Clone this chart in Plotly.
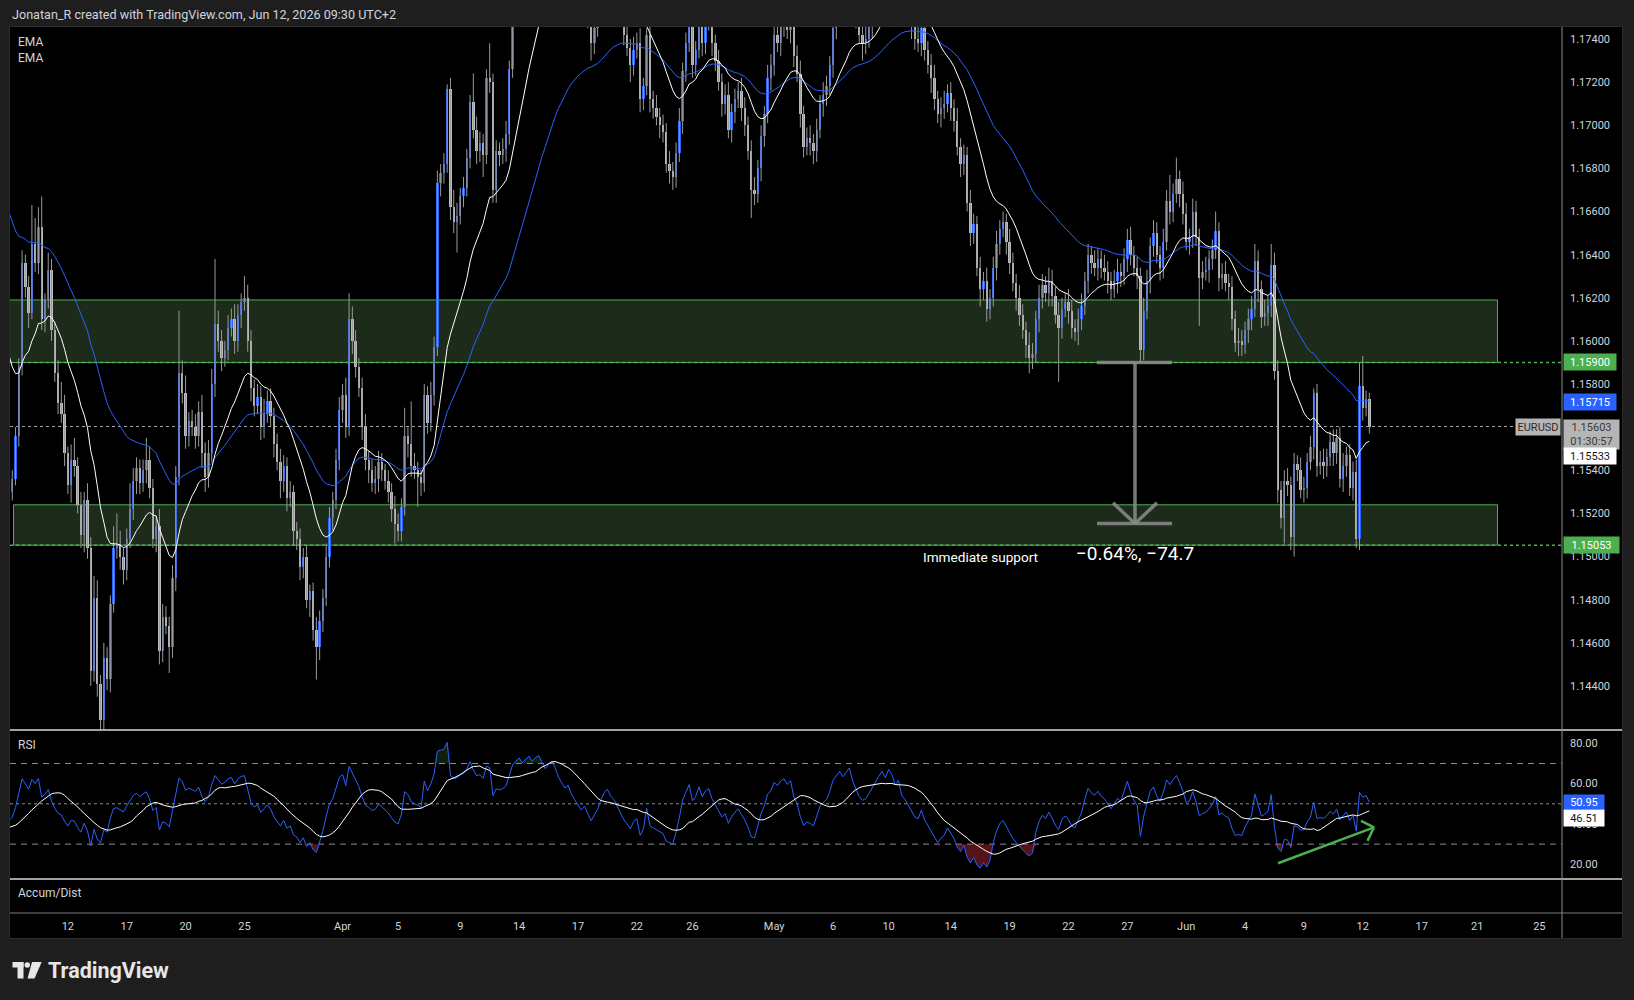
import datetime as dt
import plotly.graph_objects as go

# ---------------- data (EURUSD, 4h bars) ----------------
FIRST_OPEN = 1.1518
closes = [
    1.1530, 1.1536, 1.1556, 1.1588, 1.1636, 1.1625, 1.1613, 1.1645, 1.1636, 1.1653,
    1.1610, 1.1619, 1.1633, 1.1605, 1.1585, 1.1571, 1.1566, 1.1548, 1.1533, 1.1545,
    1.1542, 1.1524, 1.1510, 1.1526, 1.1504, 1.1447, 1.1481, 1.1441, 1.1424, 1.1453,
    1.1443, 1.1478, 1.1504, 1.1506, 1.1500, 1.1494, 1.1508, 1.1522, 1.1535, 1.1541,
    1.1534, 1.1540, 1.1545, 1.1532, 1.1508, 1.1514, 1.1456, 1.1472, 1.1468, 1.1458,
    1.1490, 1.1537, 1.1585, 1.1576, 1.1556, 1.1563, 1.1560, 1.1556, 1.1567, 1.1548,
    1.1537, 1.1548, 1.1580, 1.1608, 1.1600, 1.1592, 1.1596, 1.1606, 1.1610, 1.1600,
    1.1612, 1.1618, 1.1620, 1.1600, 1.1578, 1.1570, 1.1574, 1.1560, 1.1566, 1.1572,
    1.1565, 1.1552, 1.1544, 1.1535, 1.1542, 1.1527, 1.1530, 1.1512, 1.1508, 1.1495,
    1.1500, 1.1480, 1.1484, 1.1466, 1.1458, 1.1470, 1.1481, 1.1500, 1.1518, 1.1526,
    1.1545, 1.1568, 1.1575, 1.1560, 1.1610, 1.1600, 1.1588, 1.1578, 1.1560, 1.1545,
    1.1540, 1.1534, 1.1536, 1.1544, 1.1540, 1.1535, 1.1530, 1.1522, 1.1515, 1.1512,
    1.1523, 1.1556, 1.1552, 1.1542, 1.1540, 1.1537, 1.1534, 1.1575, 1.1562, 1.1575,
    1.1597, 1.1673, 1.1678, 1.1682, 1.1717, 1.1662, 1.1655, 1.1658, 1.1667, 1.1671,
    1.1685, 1.1711, 1.1698, 1.1688, 1.1692, 1.1686, 1.1722, 1.1720, 1.1670, 1.1688,
    1.1686, 1.1689, 1.1696, 1.1726, 1.1758, 1.1772, 1.1785, 1.1778, 1.1790, 1.1802,
    1.1795, 1.1808, 1.1815, 1.1806, 1.1798, 1.1810, 1.1820, 1.1812, 1.1800, 1.1792,
    1.1785, 1.1790, 1.1778, 1.1770, 1.1762, 1.1755, 1.1760, 1.1750, 1.1738, 1.1745,
    1.1752, 1.1764, 1.1775, 1.1780, 1.1772, 1.1768, 1.1760, 1.1752, 1.1742, 1.1736,
    1.1728, 1.1735, 1.1738, 1.1712, 1.1718, 1.1742, 1.1712, 1.1708, 1.1704, 1.1700,
    1.1697, 1.1682, 1.1679, 1.1676, 1.1687, 1.1702, 1.1725, 1.1738, 1.1750, 1.1728,
    1.1735, 1.1752, 1.1738, 1.1748, 1.1752, 1.1738, 1.1730, 1.1720, 1.1710, 1.1714,
    1.1698, 1.1706, 1.1712, 1.1716, 1.1708, 1.1700, 1.1688, 1.1670, 1.1668, 1.1680,
    1.1695, 1.1705, 1.1722, 1.1728, 1.1742, 1.1738, 1.1746, 1.1750, 1.1744, 1.1750,
    1.1732, 1.1724, 1.1705, 1.1690, 1.1694, 1.1692, 1.1688, 1.1698, 1.1710, 1.1714,
    1.1718, 1.1728, 1.1745, 1.1752, 1.1760, 1.1755, 1.1762, 1.1770, 1.1758, 1.1750,
    1.1742, 1.1738, 1.1740, 1.1746, 1.1752, 1.1760, 1.1768, 1.1775, 1.1770, 1.1782,
    1.1778, 1.1770, 1.1775, 1.1762, 1.1758, 1.1752, 1.1746, 1.1740, 1.1738, 1.1745,
    1.1735, 1.1728, 1.1722, 1.1712, 1.1705, 1.1708, 1.1710, 1.1715, 1.1708, 1.1702,
    1.1690, 1.1682, 1.1686, 1.1664, 1.1650, 1.1654, 1.1634, 1.1624, 1.1628, 1.1615,
    1.1620, 1.1634, 1.1645, 1.1652, 1.1655, 1.1646, 1.1636, 1.1627, 1.1620, 1.1612,
    1.1605, 1.1598, 1.1592, 1.1594, 1.1610, 1.1620, 1.1626, 1.1622, 1.1628, 1.1621,
    1.1612, 1.1606, 1.1615, 1.1618, 1.1614, 1.1606, 1.1604, 1.1610, 1.1616, 1.1628,
    1.1640, 1.1636, 1.1634, 1.1638, 1.1634, 1.1632, 1.1628, 1.1624, 1.1628, 1.1632,
    1.1630, 1.1638, 1.1647, 1.1640, 1.1634, 1.1630, 1.1596, 1.1614, 1.1628, 1.1644,
    1.1650, 1.1640, 1.1634, 1.1646, 1.1665, 1.1660, 1.1668, 1.1675, 1.1668, 1.1659,
    1.1646, 1.1648, 1.1660, 1.1648, 1.1629, 1.1632, 1.1633, 1.1638, 1.1642, 1.1651,
    1.1629, 1.1631, 1.1627, 1.1625, 1.1610, 1.1599, 1.1600, 1.1598, 1.1605, 1.1610,
    1.1615, 1.1637, 1.1624, 1.1611, 1.1613, 1.1616, 1.1635, 1.1586, 1.1531, 1.1518,
    1.1535, 1.1533, 1.1509, 1.1543, 1.1540, 1.1531, 1.1532, 1.1544, 1.1551, 1.1576,
    1.1542, 1.1544, 1.1542, 1.1546, 1.1553, 1.1548, 1.1555, 1.1536, 1.1542, 1.1547,
    1.1532, 1.1539, 1.1508, 1.1579, 1.1569, 1.1573, 1.1560,
]
# upper / lower wick lengths in pips
wick_up_pips = [
    3, 4, 4, 4, 6, 4, 5, 18, 12, 9,  14, 3, 8, 5, 4, 6, 10, 9, 3, 7,
    10, 4, 6, 4, 8, 5, 10, 8, 4, 7,  5, 4, 10, 14, 6, 4, 5, 12, 6, 5,
    4, 5, 10, 6, 4, 5, 8, 6, 5, 4,  6, 5, 29, 6, 8, 4, 5, 6, 5, 8,
    5, 6, 7, 30, 6, 5, 4, 6, 5, 7,  5, 4, 10, 6, 5, 4, 6, 5, 7, 5,
    6, 4, 5, 6, 5, 4, 5, 3, 4, 5,  4, 5, 3, 4, 6, 5, 4, 6, 5, 4,
    5, 6, 5, 8, 12, 6, 5, 4, 5, 6,  4, 5, 6, 5, 4, 3, 5, 4, 6, 5,
    4, 13, 4, 20, 6, 4, 3, 5, 4, 6,  5, 6, 4, 5, 2, 5, 8, 6, 4, 5,
    4, 3, 13, 6, 5, 4, 4, 16, 4, 5,  4, 5, 6, 4, 6, 8, 5, 7, 6, 5,
    8, 6, 5, 7, 6, 5, 6, 5, 7, 6,  5, 6, 7, 5, 4, 6, 5, 6, 4, 5,
    6, 5, 4, 6, 5, 7, 5, 4, 6, 5,  4, 6, 5, 7, 4, 3, 5, 4, 6, 4,
    5, 4, 6, 4, 5, 6, 4, 5, 6, 5,  4, 5, 6, 4, 5, 6, 4, 5, 4, 5,
    6, 4, 5, 4, 6, 5, 4, 5, 6, 4,  5, 4, 6, 5, 4, 6, 5, 4, 6, 5,
    4, 5, 6, 4, 5, 6, 4, 5, 4, 6,  5, 4, 6, 5, 4, 5, 6, 4, 5, 6,
    4, 5, 6, 4, 5, 4, 6, 5, 4, 6,  5, 4, 6, 5, 4, 6, 5, 4, 6, 5,
    10, 4, 5, 6, 4, 5, 6, 4, 5, 4,  6, 4, 5, 4, 6, 5, 4, 5, 4, 6,
    4, 5, 6, 4, 5, 4, 6, 5, 4, 6,  5, 4, 6, 5, 4, 6, 5, 4, 6, 5,
    4, 6, 5, 4, 6, 5, 4, 5, 6, 4,  5, 4, 6, 5, 4, 6, 5, 4, 5, 6,
    4, 5, 5, 6, 4, 5, 4, 6, 5, 4,  6, 5, 4, 6, 5, 12, 5, 10, 4, 6,
    5, 4, 6, 5, 4, 5, 6, 4, 5, 9,  4, 5, 6, 4, 5, 4, 6, 5, 4, 5,
    6, 8, 5, 4, 6, 5, 10, 6, 5, 4,  5, 6, 4, 5, 4, 6, 5, 4, 5, 2,
    4, 5, 6, 4, 5, 6, 4, 5, 6, 4,  5, 5, 6, 11, 14, 4, 3,
]
wick_dn_pips = [
    3, 4, 3, 5, 4, 5, 7, 3, 4, 5,  5, 6, 4, 5, 4, 5, 4, 6, 4, 8,
    5, 4, 6, 8, 5, 7, 5, 6, 6, 8,  5, 6, 4, 5, 6, 7, 5, 4, 5, 6,
    5, 4, 6, 5, 4, 6, 6, 5, 4, 12,  5, 6, 4, 5, 6, 5, 4, 6, 5, 7,
    7, 5, 4, 6, 5, 6, 4, 5, 4, 6,  5, 6, 4, 5, 6, 5, 4, 6, 5, 4,
    5, 6, 4, 8, 5, 6, 4, 7, 5, 6,  5, 4, 8, 5, 15, 6, 5, 4, 5, 6,
    4, 5, 6, 5, 4, 6, 5, 4, 6, 5,  6, 4, 5, 6, 5, 4, 5, 6, 9, 5,
    5, 4, 6, 5, 4, 14, 6, 4, 5, 4,  5, 4, 6, 5, 4, 6, 5, 14, 4, 5,
    4, 5, 4, 6, 5, 10, 4, 5, 6, 6,  5, 4, 6, 5, 4, 6, 5, 4, 6, 5,
    4, 6, 5, 4, 6, 5, 4, 6, 5, 4,  6, 5, 4, 6, 5, 4, 6, 5, 8, 5,
    4, 6, 5, 4, 6, 5, 4, 6, 5, 4,  8, 5, 4, 6, 5, 4, 6, 5, 4, 6,
    5, 4, 6, 6, 5, 4, 6, 5, 4, 6,  5, 4, 6, 5, 4, 6, 5, 4, 6, 5,
    4, 6, 5, 4, 6, 5, 4, 13, 5, 4,  6, 5, 4, 6, 5, 4, 6, 5, 4, 6,
    5, 4, 6, 5, 4, 6, 6, 5, 4, 6,  5, 4, 6, 5, 4, 6, 5, 4, 6, 5,
    4, 8, 5, 4, 6, 5, 4, 6, 5, 4,  6, 5, 4, 6, 5, 4, 6, 5, 4, 6,
    5, 4, 7, 5, 4, 6, 5, 4, 6, 5,  4, 6, 5, 4, 6, 5, 4, 8, 5, 6,
    5, 4, 6, 5, 4, 6, 5, 4, 6, 5,  4, 6, 7, 5, 4, 6, 5, 4, 6, 5,
    4, 25, 5, 4, 6, 5, 4, 6, 5, 4,  6, 5, 4, 6, 5, 4, 6, 5, 4, 6,
    5, 4, 6, 5, 4, 6, 6, 5, 4, 6,  5, 4, 6, 5, 4, 6, 5, 4, 6, 5,
    4, 6, 5, 4, 22, 5, 4, 6, 5, 4,  6, 5, 4, 6, 5, 4, 6, 5, 4, 6,
    5, 4, 6, 5, 4, 6, 5, 4, 6, 5,  12, 5, 6, 9, 5, 4, 6, 5, 4, 6,
    5, 4, 6, 5, 4, 6, 5, 4, 6, 5,  4, 6, 4, 5, 6, 4, 3,
]

# indicator settings and their state at the first visible bar
EMA_FAST_LEN, EMA_SLOW_LEN = 20, 50
EMA_FAST_START, EMA_SLOW_START = 1.1600, 1.1665
RSI_LEN, RSI_MA_LEN = 14, 14
RSI_START_GAIN, RSI_START_LOSS = 0.0007, 0.0011
RSI_MA_START = 38.0

# time axis
LAST_BAR_DATE = "2026-06-12"
LAST_BAR_SLOT = 2          # 08:00 bar of that day
tick_dates = ["2026-03-09", "2026-03-12", "2026-03-17", "2026-03-20", "2026-03-25",
              "2026-04-01", "2026-04-05", "2026-04-09", "2026-04-14", "2026-04-17",
              "2026-04-22", "2026-04-26", "2026-05-01", "2026-05-06", "2026-05-10",
              "2026-05-14", "2026-05-19", "2026-05-22", "2026-05-27", "2026-06-01",
              "2026-06-04", "2026-06-09", "2026-06-12", "2026-06-17", "2026-06-21",
              "2026-06-25"]
tick_text = ["9", "12", "17", "20", "25", "Apr", "5", "9", "14", "17", "22", "26", "May",
             "6", "10", "14", "19", "22", "27", "Jun", "4", "9", "12", "17", "21", "25"]
price_ticks = [1.144, 1.146, 1.148, 1.150, 1.152, 1.154, 1.156, 1.158, 1.160,
               1.162, 1.164, 1.166, 1.168, 1.170, 1.172, 1.174]
rsi_ticks = [20, 40, 60, 80]

# drawings / labels
ZONE_UPPER = (1.15900, 1.16190)
ZONE_LOWER = (1.15053, 1.15240)
MEASURE_FROM = 1.15900
MEASURE_PIPS = -74.7
LAST_PRICE = 1.15603
COUNTDOWN = "01:30:57"
EMA_FAST_LAST, EMA_SLOW_LAST = 1.15533, 1.15715
RSI_LAST, RSI_MA_LAST = 50.95, 46.51
TITLE = "Jonatan_R created with TradingView.com, Jun 12, 2026 09:30 UTC+2"

# ---------------- derived series ----------------
n = len(closes)
opens = [FIRST_OPEN] + closes[:-1]
highs = [max(o, c) + u / 10000 for o, c, u in zip(opens, closes, wick_up_pips)]
lows = [min(o, c) - d / 10000 for o, c, d in zip(opens, closes, wick_dn_pips)]
idx = list(range(n))


def ema(vals, length, start):
    a = 2 / (length + 1)
    e, out = start, []
    for v in vals:
        e += a * (v - e)
        out.append(e)
    return out


def rsi_series(vals):
    ag, al, prev, out = RSI_START_GAIN, RSI_START_LOSS, FIRST_OPEN, []
    for c in vals:
        ch = c - prev
        prev = c
        ag = (ag * (RSI_LEN - 1) + max(ch, 0)) / RSI_LEN
        al = (al * (RSI_LEN - 1) + max(-ch, 0)) / RSI_LEN
        out.append(100 - 100 / (1 + ag / al))
    return out


ema_fast = ema(closes, EMA_FAST_LEN, EMA_FAST_START)
ema_slow = ema(closes, EMA_SLOW_LEN, EMA_SLOW_START)
rsi = rsi_series(closes)
padded = [RSI_MA_START] * (RSI_MA_LEN - 1) + rsi
rsi_ma = [sum(padded[i:i + RSI_MA_LEN]) / RSI_MA_LEN for i in range(n)]

# bar calendar (Sun 1 bar, Mon-Thu 6, Fri 5)
cal = []
d = dt.date(2026, 3, 1)
while d <= dt.date(2026, 7, 12):
    wd = d.weekday()
    cnt = 1 if wd == 6 else (0 if wd == 5 else (5 if wd == 4 else 6))
    cal.extend([d] * cnt)
    d += dt.timedelta(days=1)
last_pos = cal.index(dt.date.fromisoformat(LAST_BAR_DATE)) + LAST_BAR_SLOT
offset = last_pos - (n - 1)
tickvals = [cal.index(dt.date.fromisoformat(s)) - offset for s in tick_dates]

# ---------------- geometry / styling ----------------
W, H = 1634, 1000
PL, PR, PT, PB = 10, 1562, 27, 913
BAR_PX, BAR0_PX = 3.27, 9.0
PX_PER_UNIT, REF_P, REF_Y = 21565.0, 1.174, 39.0
RSI_PX, RSI_REF, RSI_REF_Y = 2.0167, 80.0, 743.3
MAIN_BOTTOM_Y, RSI_TOP_Y, RSI_BOTTOM_Y, AD_TOP_Y = 729.5, 730.5, 878.5, 879.5


def xp(px):
    return (px - PL) / (PR - PL)


def yp(py):
    return (PB - py) / (PB - PT)


def idx_at(px):
    return (px - BAR0_PX) / BAR_PX


x_range = [idx_at(PL), idx_at(PR)]
main_range = [REF_P - (MAIN_BOTTOM_Y - REF_Y) / PX_PER_UNIT, REF_P + (REF_Y - PT) / PX_PER_UNIT]
rsi_range = [RSI_REF - (RSI_BOTTOM_Y - RSI_REF_Y) / RSI_PX, RSI_REF + (RSI_REF_Y - RSI_TOP_Y) / RSI_PX]

BLUE = "#2962FF"
GRAY_BODY = "#BDBDBD"
WICK = "#9A9A9A"
GREEN = "#4CAF50"
TXT = "#D1D4DC"
FONT = "Roboto"

fig = go.Figure()

# wicks
wx, wy = [], []
for i, h, l in zip(idx, highs, lows):
    wx += [i, i, None]
    wy += [l, h, None]
fig.add_trace(go.Scatter(x=wx, y=wy, mode="lines", line=dict(color=WICK, width=1),
                         hoverinfo="skip", xaxis="x", yaxis="y"))
# bodies
fig.add_trace(go.Bar(
    x=idx, base=[min(o, c) for o, c in zip(opens, closes)],
    y=[max(abs(c - o), 0.00003) for o, c in zip(opens, closes)],
    width=0.72, marker=dict(color=[BLUE if c >= o else GRAY_BODY for o, c in zip(opens, closes)],
                            line=dict(width=0)),
    hoverinfo="skip", xaxis="x", yaxis="y"))
# EMAs
fig.add_trace(go.Scatter(x=idx, y=ema_slow, mode="lines", line=dict(color=BLUE, width=1),
                         hoverinfo="skip", xaxis="x", yaxis="y"))
fig.add_trace(go.Scatter(x=idx, y=ema_fast, mode="lines", line=dict(color="#FFFFFF", width=1),
                         hoverinfo="skip", xaxis="x", yaxis="y"))

# RSI fills
fig.add_trace(go.Scatter(x=idx, y=[30] * n, mode="lines", line=dict(width=0, color="rgba(0,0,0,0)"),
                         hoverinfo="skip", xaxis="x", yaxis="y2"))
fig.add_trace(go.Scatter(x=idx, y=[min(v, 30) for v in rsi], mode="lines",
                         line=dict(width=0, color="rgba(0,0,0,0)"), fill="tonexty",
                         fillcolor="rgba(242,54,69,0.35)", hoverinfo="skip", xaxis="x", yaxis="y2"))
fig.add_trace(go.Scatter(x=idx, y=[70] * n, mode="lines", line=dict(width=0, color="rgba(0,0,0,0)"),
                         hoverinfo="skip", xaxis="x", yaxis="y2"))
fig.add_trace(go.Scatter(x=idx, y=[max(v, 70) for v in rsi], mode="lines",
                         line=dict(width=0, color="rgba(0,0,0,0)"), fill="tonexty",
                         fillcolor="rgba(76,175,80,0.18)", hoverinfo="skip", xaxis="x", yaxis="y2"))
fig.add_trace(go.Scatter(x=idx, y=rsi, mode="lines", line=dict(color=BLUE, width=1),
                         hoverinfo="skip", xaxis="x", yaxis="y2"))
fig.add_trace(go.Scatter(x=idx, y=rsi_ma, mode="lines", line=dict(color="#FFFFFF", width=1),
                         hoverinfo="skip", xaxis="x", yaxis="y2"))

shapes = []
# chart panel background (incl. axis area)
shapes.append(dict(type="rect", xref="paper", yref="paper", x0=xp(9.5), x1=xp(1622.5),
                   y0=yp(938.5), y1=yp(26.5), fillcolor="#000000",
                   line=dict(color="#2C2C2C", width=1), layer="below"))
# zones
zx1 = idx_at(1497.5)
shapes.append(dict(type="rect", xref="x", yref="y", x0=idx_at(6), x1=zx1,
                   y0=ZONE_UPPER[0], y1=ZONE_UPPER[1], fillcolor="#1D2B1A",
                   line=dict(color=GREEN, width=1), layer="below"))
shapes.append(dict(type="rect", xref="x", yref="y", x0=idx_at(13.5), x1=zx1,
                   y0=ZONE_LOWER[0], y1=ZONE_LOWER[1], fillcolor="#1D2B1A",
                   line=dict(color=GREEN, width=1), layer="below"))
for lvl in (ZONE_UPPER[0], ZONE_LOWER[0]):
    shapes.append(dict(type="line", xref="x", yref="y", x0=x_range[0], x1=x_range[1], y0=lvl, y1=lvl,
                       line=dict(color=GREEN, width=1.5, dash="dot"), layer="below"))
# last price dotted line
shapes.append(dict(type="line", xref="x", yref="y", x0=x_range[0], x1=idx_at(1516), y0=LAST_PRICE,
                   y1=LAST_PRICE, line=dict(color="#A8A8A8", width=1, dash="dot"), layer="below"))
# measure drawing
m_to = MEASURE_FROM + MEASURE_PIPS / 10000
mx = idx_at(1135)
mc0, mc1 = idx_at(1097), idx_at(1172)
mgray = dict(color="rgba(140,140,140,0.85)", width=3.5)
shapes += [
    dict(type="line", xref="x", yref="y", x0=mx, x1=mx, y0=MEASURE_FROM, y1=m_to, line=mgray),
    dict(type="line", xref="x", yref="y", x0=mc0, x1=mc1, y0=MEASURE_FROM, y1=MEASURE_FROM, line=mgray),
    dict(type="line", xref="x", yref="y", x0=mc0, x1=mc1, y0=m_to, y1=m_to, line=mgray),
    dict(type="line", xref="x", yref="y", x0=idx_at(1113), x1=mx, y0=m_to + 0.00096, y1=m_to, line=mgray),
    dict(type="line", xref="x", yref="y", x0=idx_at(1157), x1=mx, y0=m_to + 0.00096, y1=m_to, line=mgray),
]
# RSI guide lines
for lvl, dash in ((70, "6px,5px"), (30, "6px,5px"), (50, "dot")):
    shapes.append(dict(type="line", xref="x", yref="y2", x0=x_range[0], x1=x_range[1], y0=lvl, y1=lvl,
                       line=dict(color="#8A8D96", width=1, dash=dash), layer="below"))
# green divergence arrow on RSI
garrow = dict(color=GREEN, width=2.5)
shapes += [
    dict(type="line", xref="x", yref="y2", x0=idx_at(1278), y0=20.5, x1=idx_at(1374), y1=38.35, line=garrow),
    dict(type="line", xref="x", yref="y2", x0=idx_at(1361), y0=41.5, x1=idx_at(1374), y1=38.35, line=garrow),
    dict(type="line", xref="x", yref="y2", x0=idx_at(1367.5), y0=31.6, x1=idx_at(1374), y1=38.35, line=garrow),
]
# pane separators and axis lines
for py in (MAIN_BOTTOM_Y + 0.5, RSI_BOTTOM_Y + 0.5):
    shapes.append(dict(type="line", xref="paper", yref="paper", x0=xp(10), x1=xp(1622), y0=yp(py), y1=yp(py),
                       line=dict(color="#D8D8D8", width=1.5)))
shapes.append(dict(type="line", xref="paper", yref="paper", x0=xp(10), x1=xp(1622), y0=yp(913), y1=yp(913),
                   line=dict(color="#7A7A7A", width=1)))
shapes.append(dict(type="line", xref="paper", yref="paper", x0=1, x1=1, y0=yp(938), y1=yp(27),
                   line=dict(color="#8C8C8C", width=1)))
# TradingView logo icon
LOGO = "#E6E6E6"
shapes.append(dict(type="rect", xref="paper", yref="paper", x0=xp(12.5), x1=xp(23.5), y0=yp(967.5), y1=yp(962),
                   fillcolor=LOGO, line=dict(width=0)))
shapes.append(dict(type="rect", xref="paper", yref="paper", x0=xp(17.5), x1=xp(23.5), y0=yp(978.5), y1=yp(962),
                   fillcolor=LOGO, line=dict(width=0)))
shapes.append(dict(type="circle", xref="paper", yref="paper", x0=xp(24.5), x1=xp(30), y0=yp(967.7), y1=yp(962.2),
                   fillcolor=LOGO, line=dict(width=0)))
path = "M {:.5f} {:.5f} L {:.5f} {:.5f} L {:.5f} {:.5f} L {:.5f} {:.5f} Z".format(
    xp(32), yp(962), xp(41.7), yp(962), xp(34.5), yp(978.5), xp(27.5), yp(978.5))
shapes.append(dict(type="path", xref="paper", yref="paper", path=path, fillcolor=LOGO, line=dict(width=0)))

ann = []


def text_at(px, py, s, size=12, color=TXT, anchor="left", bold=False):
    ann.append(dict(xref="paper", yref="paper", x=xp(px), y=yp(py), text=("<b>%s</b>" % s) if bold else s,
                    showarrow=False, xanchor=anchor, yanchor="middle",
                    font=dict(size=size, color=color, family=FONT)))


text_at(10, 15, TITLE, 12.6)
text_at(16, 42, "EMA", 12)
text_at(16, 58, "EMA", 12)
text_at(16, 745, "RSI", 12)
text_at(16, 893, "Accum/Dist", 12)
text_at(46, 970, "TradingView", 21.5, "#E6E6E6", bold=True)

# chart texts
pct = MEASURE_PIPS / 10000 / MEASURE_FROM * 100
ann.append(dict(xref="x", yref="y", x=idx_at(980), y=REF_P - (556.7 - REF_Y) / PX_PER_UNIT,
                text="Immediate support", showarrow=False, xanchor="center", yanchor="middle",
                font=dict(size=13.6, color="#FFFFFF", family=FONT)))
ann.append(dict(xref="x", yref="y", x=mx, y=REF_P - (553.3 - REF_Y) / PX_PER_UNIT,
                text=("%.2f%%, %.1f" % (pct, MEASURE_PIPS)).replace("-", "\u2212"), showarrow=False,
                xanchor="center", yanchor="middle", font=dict(size=19, color="#FFFFFF", family=FONT)))


def axis_box(yref, val, text, bg, fg, yshift=0, height=14, anchor="middle", width=50):
    ann.append(dict(xref="paper", yref=yref, x=1, y=val, xanchor="left", yanchor=anchor, xshift=1,
                    yshift=yshift, text=text, showarrow=False, bgcolor=bg, borderpad=1,
                    width=width, height=height, align="center",
                    font=dict(size=11, color=fg, family=FONT)))


axis_box("y", ZONE_UPPER[0], "%.5f" % ZONE_UPPER[0], GREEN, "#FFFFFF")
axis_box("y", EMA_SLOW_LAST, "%.5f" % EMA_SLOW_LAST, BLUE, "#FFFFFF")
axis_box("y", LAST_PRICE, "%.5f<br>%s" % (LAST_PRICE, COUNTDOWN), "#B5B5B5", "#3A3A3A",
         yshift=8, height=27, anchor="top", width=53)
axis_box("y", EMA_FAST_LAST, "%.5f" % EMA_FAST_LAST, "#FFFFFF", "#131722", yshift=-14)
axis_box("y", ZONE_LOWER[0], "%.5f" % ZONE_LOWER[0], GREEN, "#FFFFFF", width=53)
axis_box("y2", RSI_LAST, "%.2f" % RSI_LAST, BLUE, "#FFFFFF", height=12, width=38)
axis_box("y2", RSI_MA_LAST, "%.2f" % RSI_MA_LAST, "#FFFFFF", "#131722", yshift=-7, height=14, width=38)
ann.append(dict(xref="paper", yref="y", x=1, y=LAST_PRICE, xanchor="right", yanchor="middle", xshift=-1,
                text="EURUSD", showarrow=False, bgcolor="#B5B5B5", borderpad=1, width=42, height=14,
                font=dict(size=11, color="#2A2A2A", family=FONT)))

axis_common = dict(showgrid=False, zeroline=False, showline=False, fixedrange=True, automargin=False)
fig.update_layout(
    width=W, height=H,
    margin=dict(l=PL, r=W - PR, t=PT, b=H - PB, pad=0),
    paper_bgcolor="#1E1E1E", plot_bgcolor="#000000",
    showlegend=False, hovermode=False, bargap=0,
    font=dict(family=FONT, color=TXT, size=11),
    xaxis=dict(range=x_range, anchor="free", position=0, tickmode="array", tickvals=tickvals,
               ticktext=tick_text, ticks="", ticklabelstandoff=5,
               tickfont=dict(size=11, color=TXT, family=FONT), **axis_common),
    yaxis=dict(domain=[yp(MAIN_BOTTOM_Y), 1], range=main_range, side="right", anchor="x",
               tickmode="array", tickvals=price_ticks, ticktext=["%.5f" % v for v in price_ticks],
               ticks="", ticklabelstandoff=7, tickfont=dict(size=11, color=TXT, family=FONT), **axis_common),
    yaxis2=dict(domain=[yp(RSI_BOTTOM_Y), yp(RSI_TOP_Y)], range=rsi_range, side="right", anchor="x",
                tickmode="array", tickvals=rsi_ticks, ticktext=["%.2f" % v for v in rsi_ticks],
                ticks="", ticklabelstandoff=7, tickfont=dict(size=11, color=TXT, family=FONT), **axis_common),
    yaxis3=dict(domain=[0, yp(AD_TOP_Y)], range=[0, 1], side="right", anchor="x", showticklabels=False,
                ticks="", **axis_common),
    shapes=shapes, annotations=ann,
)

fig.write_html("out.html", config={"displayModeBar": False})
